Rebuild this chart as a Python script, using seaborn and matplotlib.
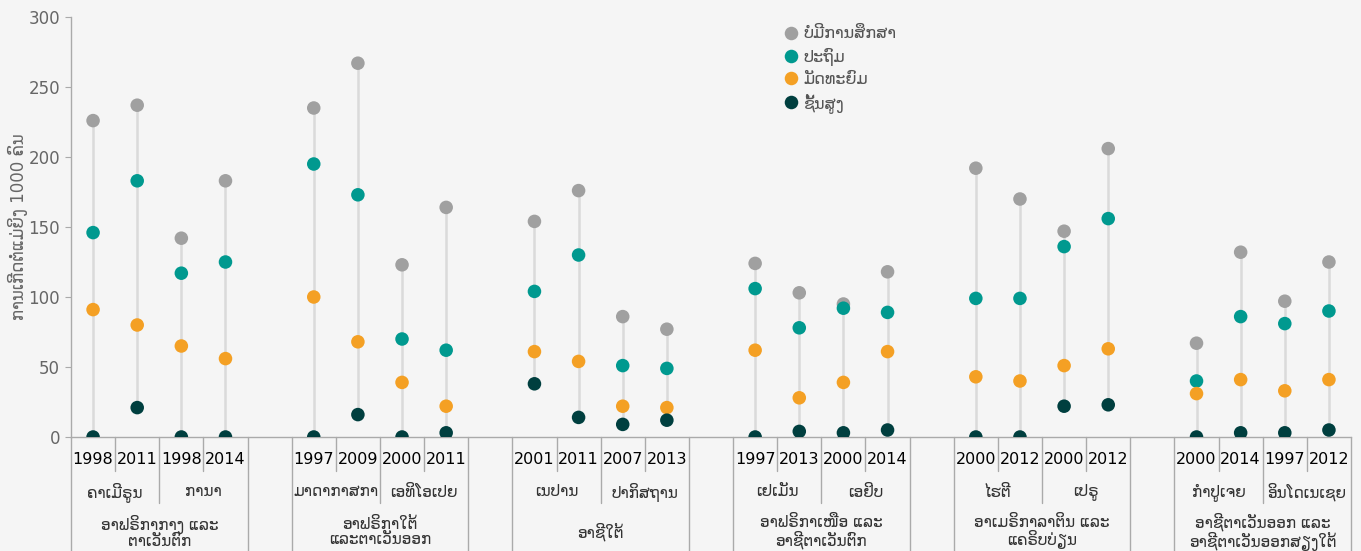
#!/usr/bin/env python3
"""Births per 1000 women by education level, dot plot by region/country/year."""

import pandas as pd
import matplotlib
matplotlib.use("Agg")
import matplotlib.pyplot as plt
import matplotlib.transforms as mtransforms
import seaborn as sns

# --- data -------------------------------------------------------------
regions = [
    "ອາຟຣິກາກາງ ແລະ\nຕາເວັນຕົກ",
    "ອາຟຣິກາໃຕ້\nແລະຕາເວັນອອກ",
    "ອາຊີໃຕ້",
    "ອາຟຣິກາເໜືອ ແລະ\nອາຊີຕາເວັນຕົກ",
    "ອາເມຣິກາລາຕິນ ແລະ\nແຄຣິບບ່ຽນ",
    "ອາຊີຕາເວັນອອກ ແລະ\nອາຊີຕາເວັນອອກສຽງໃຕ້",
]
countries = [
    "ຄາເມີຣູນ", "ການາ",
    "ມາດາກາສກາ", "ເອທິໂອເປຍ",
    "ເນປານ", "ປາກິສຖານ",
    "ເຢເມັນ", "ເອຢິບ",
    "ໄຮຕີ", "ເປຣູ",
    "ກຳປູເຈຍ", "ອິນໂດເນເຊຍ",
]
years = [
    "1998", "2011", "1998", "2014",
    "1997", "2009", "2000", "2011",
    "2001", "2011", "2007", "2013",
    "1997", "2013", "2000", "2014",
    "2000", "2012", "2000", "2012",
    "2000", "2014", "1997", "2012",
]
no_education = [226, 237, 142, 183, 235, 267, 123, 164, 154, 176, 86, 77,
                124, 103, 95, 118, 192, 170, 147, 206, 67, 132, 97, 125]
primary = [146, 183, 117, 125, 195, 173, 70, 62, 104, 130, 51, 49,
           106, 78, 92, 89, 99, 99, 136, 156, 40, 86, 81, 90]
secondary = [91, 80, 65, 56, 100, 68, 39, 22, 61, 54, 22, 21,
             62, 28, 39, 61, 43, 40, 51, 63, 31, 41, 33, 41]
higher = [0, 21, 0, 0, 0, 16, 0, 3, 38, 14, 9, 12,
          0, 4, 3, 5, 0, 0, 22, 23, 0, 3, 3, 5]

levels = ["ບໍ່ມີການສຶກສາ", "ປະຖົມ", "ມັດທະຍົມ", "ຊັ້ນສູງ"]
colors = ["#a0a0a0", "#00998f", "#f4a024", "#003f3f"]

BG = "#f5f5f5"
W, H = 1361, 551
AX_L, AX_R, AX_T, AX_B = 71, 1351, 17, 437


def build_frame():
    slots = [5 * (i // 4) + i % 4 for i in range(len(years))]
    wide = pd.DataFrame({
        "slot": slots,
        levels[0]: no_education,
        levels[1]: primary,
        levels[2]: secondary,
        levels[3]: higher,
    })
    long = wide.melt(id_vars="slot", var_name="level", value_name="value")
    return wide, long


def ax_y(py):
    """Convert a figure pixel row to axes fraction."""
    return (AX_B - py) / (AX_B - AX_T)


def main():
    sns.set_style("ticks")
    plt.rcParams["font.family"] = ["DejaVu Sans"]

    wide, long = build_frame()

    fig = plt.figure(figsize=(W / 100, H / 100), dpi=100, facecolor=BG)
    ax = fig.add_axes([AX_L / W, 1 - AX_B / H, (AX_R - AX_L) / W, (AX_B - AX_T) / H])
    ax.set_facecolor(BG)

    lo = wide[levels].min(axis=1)
    hi = wide[levels].max(axis=1)
    ax.vlines(wide["slot"], lo, hi, color="#dadada", lw=1.8, zorder=1)

    sns.scatterplot(data=long, x="slot", y="value", hue="level",
                    hue_order=levels, palette=colors, s=95, linewidth=0,
                    ax=ax, zorder=3)

    ax.set_xlim(-0.5, 28.5)
    ax.set_ylim(0, 300)
    ax.set_yticks(range(0, 301, 50))
    ax.set_xticks([])
    ax.set_xlabel("")
    ax.set_ylabel("ການເກີດຕໍ່ແມ່ຍິງ 1000 ຄົນ", color="#666666", fontsize=12,
                  va="center")
    ax.yaxis.set_label_coords((18 - AX_L) / (AX_R - AX_L), 0.5)
    ax.tick_params(axis="y", colors="#aaaaaa", labelcolor="#666666",
                   labelsize=12, length=4, pad=4)
    for side in ("top", "right"):
        ax.spines[side].set_visible(False)
    for side in ("left", "bottom"):
        ax.spines[side].set_color("#aaaaaa")
        ax.spines[side].set_linewidth(1)

    # category labels under the axis
    trans = mtransforms.blended_transform_factory(ax.transData, ax.transAxes)
    sep = dict(color="#aaaaaa", lw=1, transform=trans, clip_on=False)
    bottom = ax_y(H + 5)
    for g, region in enumerate(regions):
        base = 5 * g
        ax.plot([base - 0.5] * 2, [0, bottom], **sep)
        ax.plot([base + 3.5] * 2, [0, bottom], **sep)
        ax.plot([base + 1.5] * 2, [0, ax_y(503)], **sep)
        ax.plot([base + 0.5] * 2, [0, ax_y(471)], **sep)
        ax.plot([base + 2.5] * 2, [0, ax_y(471)], **sep)
        ax.text(base + 1.5, ax_y(532), region, transform=trans, ha="center",
                va="center", fontsize=11, color="#333333", linespacing=1.05)
        for c in range(2):
            ax.text(base + 0.5 + 2 * c, ax_y(492), countries[2 * g + c],
                    transform=trans, ha="center", va="center", fontsize=11,
                    color="#333333")
            for k in range(2):
                i = 4 * g + 2 * c + k
                ax.text(base + 2 * c + k, ax_y(459), years[i], transform=trans,
                        ha="center", va="center", fontsize=11.5, color="#000000")

    handles, labels = ax.get_legend_handles_labels()
    ax.legend(handles, labels, loc="upper left", frameon=False,
              bbox_to_anchor=(775 / W, 1 - 20 / H), bbox_transform=fig.transFigure,
              fontsize=11.5, labelcolor="#555555", labelspacing=0.38,
              handletextpad=0.2, handlelength=1.2, borderaxespad=0)

    fig.savefig("out.png", dpi=100, facecolor=BG)


if __name__ == "__main__":
    main()
